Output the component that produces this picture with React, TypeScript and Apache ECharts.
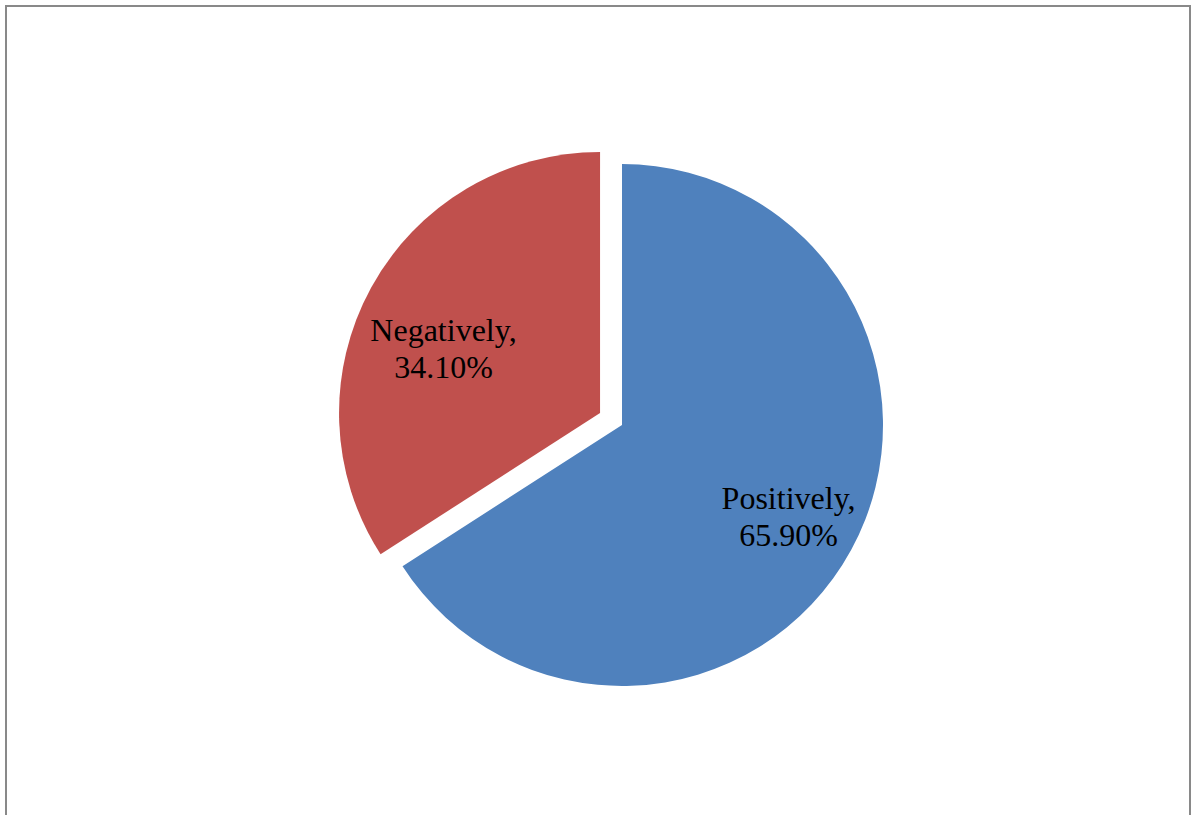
import React, { useEffect, useRef } from "react";
import * as echarts from "echarts";

const categories = ["Positively", "Negatively"];
const values = [65.9, 34.1];
const colors = ["#4F81BD", "#C0504D"];

export default function App() {
  const ref = useRef<HTMLDivElement>(null);
  useEffect(() => {
    if (!ref.current) return;
    const chart = echarts.init(ref.current, undefined, { renderer: "svg" });
    const center = [622, 425];
    const R = 261;
    const baseData = categories.map((name, i) => ({
      name,
      value: values[i],
      selected: name === "Negatively",
      itemStyle: { color: colors[i] },
    }));
    const labelStyle = {
      show: true,
      position: "inside",
      color: "#000",
      fontFamily: "Liberation Serif, Times New Roman, serif",
      fontSize: 32,
      lineHeight: 37,
    };
    const overlay = (inner: number, showName: string, padding: number[], lead: string) => ({
      type: "pie",
      center,
      radius: [inner, R],
      startAngle: 90,
      selectedMode: "single",
      selectedOffset: 25,
      silent: true,
      z: 5,
      itemStyle: { color: "rgba(0,0,0,0)" },
      emphasis: { disabled: true },
      labelLine: { show: false },
      data: categories.map((name, i) => ({
        name,
        value: values[i],
        selected: name === "Negatively",
        label: {
          ...labelStyle,
          padding,
          show: name === showName,
          formatter: (p: any) => `${lead}${p.name},\n${p.value.toFixed(2)}%`,
        },
      })),
    });
    chart.setOption({
      animation: false,
      backgroundColor: "#fff",
      graphic: [
        {
          type: "rect",
          shape: { x: 6, y: 6, width: 1184, height: 840 },
          style: { fill: "none", stroke: "#898989", lineWidth: 2 },
          z: 0,
        },
      ],
      series: [
        {
          type: "pie",
          center,
          radius: R,
          startAngle: 90,
          selectedMode: "single",
          selectedOffset: 25,
          silent: true,
          emphasis: { disabled: true },
          label: { show: false },
          labelLine: { show: false },
          data: baseData,
        },
        overlay(0.44 * R, "Positively", [0, 2, 0, 0], ""),
        overlay(0.3 * R, "Negatively", [0, 10, 0, 0], " \n"),
      ],
    });
    return () => chart.dispose();
  }, []);
  return (
    <div
      ref={ref}
      style={{ position: "absolute", left: 0, top: 0, width: 1193, height: 815 }}
    />
  );
}
